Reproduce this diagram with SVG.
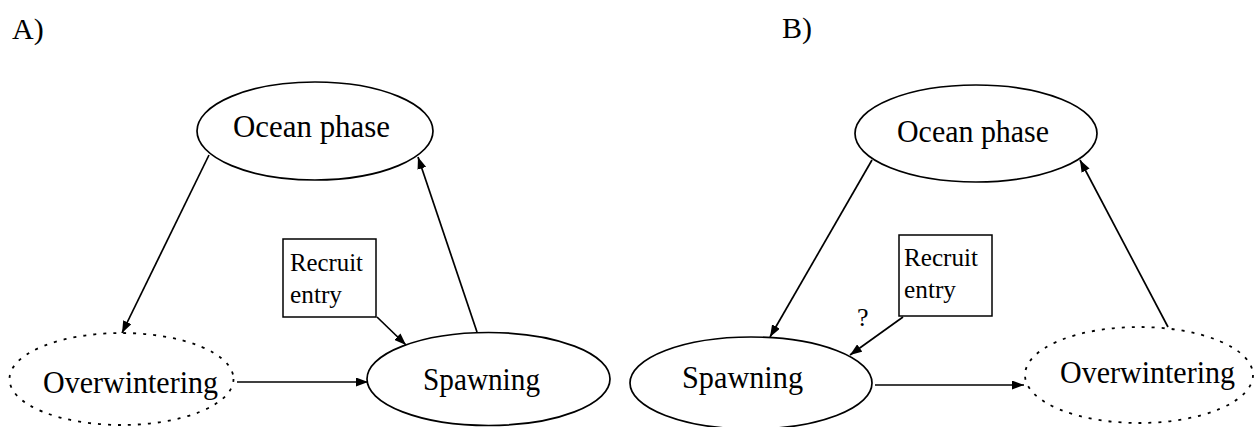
<svg xmlns="http://www.w3.org/2000/svg" width="1254" height="427" viewBox="0 0 1254 427">
<defs>
<style>
text{font-family:"Liberation Serif","Times New Roman",serif;fill:#000}
.lbl{font-size:32px}
.big{font-size:30px}
.sm{font-size:26px}
.node{fill:#fff;stroke:#000;stroke-width:1.7}
.dot{fill:none;stroke:#000;stroke-width:1.8;stroke-dasharray:3 7}
.box{fill:#fff;stroke:#000;stroke-width:1.5}
.con line{stroke:#000;stroke-width:1.7;marker-end:url(#ah)}
</style>
<marker id="ah" markerUnits="userSpaceOnUse" markerWidth="12" markerHeight="9" refX="12" refY="4.5" orient="auto">
<path d="M0,0 L12,4.5 L0,9 z" fill="#000"/>
</marker>
</defs>
<rect width="1254" height="427" fill="#fff"/>
<text class="big" x="12" y="39">A)</text>
<text class="big" x="782" y="38">B)</text>
<g id="a-ocean">
<ellipse class="node" cx="315" cy="131" rx="118" ry="49"/>
<text class="lbl" x="233" y="137" textLength="157" lengthAdjust="spacingAndGlyphs">Ocean phase</text>
</g>
<g id="a-overwintering">
<ellipse class="dot" cx="121.5" cy="379" rx="112" ry="46"/>
<text class="lbl" x="43" y="393" textLength="175" lengthAdjust="spacingAndGlyphs">Overwintering</text>
</g>
<g id="a-spawning">
<ellipse class="node" cx="488.5" cy="379" rx="121.5" ry="46.5"/>
<text class="lbl" x="423" y="390" textLength="117" lengthAdjust="spacingAndGlyphs">Spawning</text>
</g>
<g id="a-recruit">
<rect class="box" x="283" y="239" width="93" height="78"/>
<text class="sm" x="290" y="271" textLength="73" lengthAdjust="spacingAndGlyphs">Recruit</text>
<text class="sm" x="290" y="303" textLength="52" lengthAdjust="spacingAndGlyphs">entry</text>
</g>
<g id="b-ocean">
<ellipse class="node" cx="976" cy="133.5" rx="121" ry="48.5"/>
<text class="lbl" x="897" y="142" textLength="152" lengthAdjust="spacingAndGlyphs">Ocean phase</text>
</g>
<g id="b-spawning">
<ellipse class="node" cx="751" cy="383" rx="121" ry="46"/>
<text class="lbl" x="682" y="388" textLength="121" lengthAdjust="spacingAndGlyphs">Spawning</text>
</g>
<g id="b-overwintering">
<ellipse class="dot" cx="1139" cy="375" rx="114" ry="48"/>
<text class="lbl" x="1060" y="383" textLength="175" lengthAdjust="spacingAndGlyphs">Overwintering</text>
</g>
<g id="b-recruit">
<rect class="box" x="899" y="235" width="93" height="81"/>
<text class="sm" x="904" y="266" textLength="74" lengthAdjust="spacingAndGlyphs">Recruit</text>
<text class="sm" x="904" y="298" textLength="52" lengthAdjust="spacingAndGlyphs">entry</text>
</g>
<g id="connectors" class="con">
<line x1="209" y1="155" x2="122" y2="333"/>
<line x1="237" y1="382" x2="368" y2="382"/>
<line x1="477" y1="332" x2="418" y2="157"/>
<line x1="377" y1="317" x2="406" y2="345"/>
<line x1="872" y1="160" x2="770" y2="337"/>
<line x1="875" y1="385" x2="1024" y2="385"/>
<line x1="1168" y1="327" x2="1080" y2="160"/>
<line x1="903" y1="317" x2="850" y2="355"/>
<text class="sm" x="857" y="326">?</text>
</g>
</svg>
